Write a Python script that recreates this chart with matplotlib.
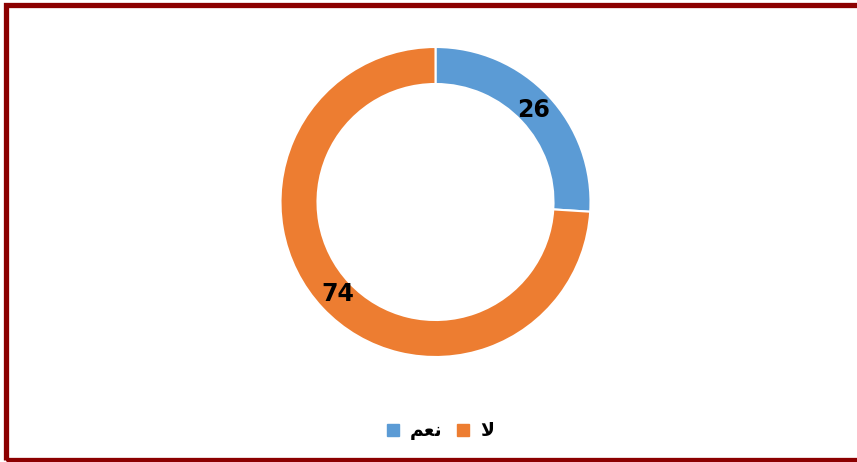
import matplotlib
matplotlib.use("Agg")
import matplotlib.pyplot as plt
import numpy as np
from matplotlib.patches import Rectangle
from matplotlib.lines import Line2D

# Data
categories = ["نعم", "لا"]
# visual (pre-shaped) forms for rendering without a shaping engine
display_labels = ["\uFEE2\uFECC\uFEE7", "\uFEFB"]
values = [26, 74]
colors = ["#5B9BD5", "#ED7D31"]

W, H = 857, 462
fig = plt.figure(figsize=(W / 100, H / 100), dpi=100)
fig.patch.set_facecolor("white")

ax = fig.add_axes([0, 0, 1, 1])

cx, cy = 435.5, H - 202
R = 155
width = 37

wedges, _ = ax.pie(values, colors=colors, startangle=90, counterclock=False,
                   center=(cx, cy), radius=R,
                   wedgeprops=dict(width=width, edgecolor="white", linewidth=1.5),
                   frame=True)
ax.set_xlim(0, W)
ax.set_ylim(0, H)
ax.set_aspect("equal")
ax.axis("off")

for w, v in zip(wedges, values):
    ang = np.deg2rad((w.theta1 + w.theta2) / 2)
    r = R - width / 2 - 2
    ax.text(cx + r * np.cos(ang), cy + r * np.sin(ang), str(v),
            ha="center", va="center", fontsize=17, fontweight="bold",
            family="DejaVu Sans", color="black")

handles = [Line2D([0], [0], marker="s", linestyle="none", markersize=9,
                  markerfacecolor=c, markeredgecolor=c) for c in colors]
leg = ax.legend(handles, display_labels, loc="center",
                bbox_to_anchor=(440 / W, (H - 431) / H), ncol=2, frameon=False,
                prop=dict(family="DejaVu Sans", weight="bold", size=13.5),
                handletextpad=0.5, columnspacing=0.7, handlelength=0.8)

border = Rectangle((5.5 / W, 2.5 / H), (W + 10) / W, (H - 7) / H,
                   transform=fig.transFigure, fill=False,
                   edgecolor="#8B0000", linewidth=3.8, clip_on=False)
fig.patches.append(border)

fig.savefig("out.png", dpi=100)
